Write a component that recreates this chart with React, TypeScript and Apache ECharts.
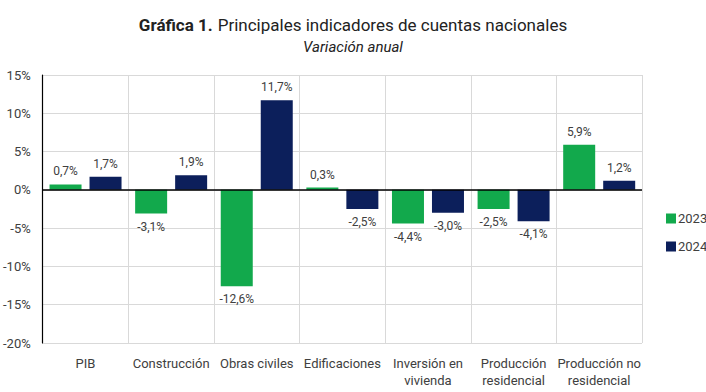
import React, { useEffect, useRef } from "react";
import * as echarts from "echarts";

const categories = [
  "PIB",
  "Construcción",
  "Obras civiles",
  "Edificaciones",
  "Inversión en\nvivienda",
  "Producción\nresidencial",
  "Producción no\nresidencial",
];
const values2023 = [0.7, -3.1, -12.6, 0.3, -4.4, -2.5, 5.9];
const values2024 = [1.7, 1.9, 11.7, -2.5, -3.0, -4.1, 1.2];
const seriesNames = ["2023", "2024"];
const colors = ["#12a94c", "#0c1f5b"];

const FONT = "Roboto, 'Liberation Sans Narrow', sans-serif";

function fmt(v: number) {
  return v.toFixed(1).replace(".", ",") + "%";
}

function makeSeries(name: string, data: number[], color: string, withZero: boolean) {
  return {
    name,
    type: "bar",
    barWidth: 32,
    barGap: "25%",
    itemStyle: { color },
    data: data.map((v) => ({
      value: v,
      label: {
        show: true,
        position: v >= 0 ? "top" : "bottom",
        distance: 7,
        formatter: () => fmt(v),
        color: "#404040",
        fontSize: 12,
        fontFamily: FONT,
      },
    })),
    markLine: withZero
      ? {
          silent: true,
          symbol: "none",
          label: { show: false },
          lineStyle: { color: "#000", width: 1.5, type: "solid" },
          data: [{ yAxis: 0 }],
        }
      : undefined,
  };
}

export default function App() {
  const ref = useRef<HTMLDivElement>(null);
  useEffect(() => {
    if (!ref.current) return;
    const chart = echarts.init(ref.current, null, { renderer: "svg" });
    chart.setOption({
      animation: false,
      backgroundColor: "#fff",
      title: {
        left: "center",
        top: 11,
        text: "{b|Gráfica 1.} {r|Principales indicadores de cuentas nacionales}",
        subtext: "Variación anual",
        itemGap: 5,
        textStyle: {
          rich: {
            b: { fontFamily: FONT, fontWeight: "bold", fontSize: 17, color: "#222" },
            r: { fontFamily: FONT, fontWeight: "normal", fontSize: 17, color: "#222" },
          },
        },
        subtextStyle: {
          fontFamily: FONT,
          fontStyle: "italic",
          fontSize: 15,
          color: "#222",
        },
      },
      legend: {
        orient: "vertical",
        left: 661,
        top: 207,
        itemWidth: 10,
        itemHeight: 10,
        itemGap: 15,
        icon: "rect",
        textStyle: { fontFamily: FONT, fontSize: 13, color: "#404040", padding: [0, 0, 0, -3] },
        data: seriesNames,
      },
      grid: { left: 37, top: 75, right: 64, bottom: 49 },
      xAxis: {
        type: "category",
        data: categories,
        axisLine: { show: false, onZero: false },
        axisTick: { show: false },
        splitLine: { show: true, lineStyle: { color: "#d9d9d9", width: 1 } },
        axisLabel: {
          color: "#404040",
          fontSize: 13,
          fontFamily: FONT,
          margin: 12,
          lineHeight: 17,
          interval: 0,
        },
      },
      yAxis: {
        type: "value",
        min: -20,
        max: 15,
        interval: 5,
        axisLine: { show: true, lineStyle: { color: "#000", width: 1.2 } },
        axisTick: { show: false },
        splitLine: { show: true, lineStyle: { color: "#d9d9d9", width: 1 } },
        axisLabel: {
          formatter: (v: number) => v + "%",
          color: "#404040",
          fontSize: 13,
          fontFamily: FONT,
          margin: 12,
        },
      },
      series: [
        makeSeries(seriesNames[0], values2023, colors[0], false),
        makeSeries(seriesNames[1], values2024, colors[1], true),
      ],
    });
    return () => chart.dispose();
  }, []);
  return (
    <div
      ref={ref}
      style={{ position: "fixed", left: 0, top: 0, width: 706, height: 392 }}
    />
  );
}
